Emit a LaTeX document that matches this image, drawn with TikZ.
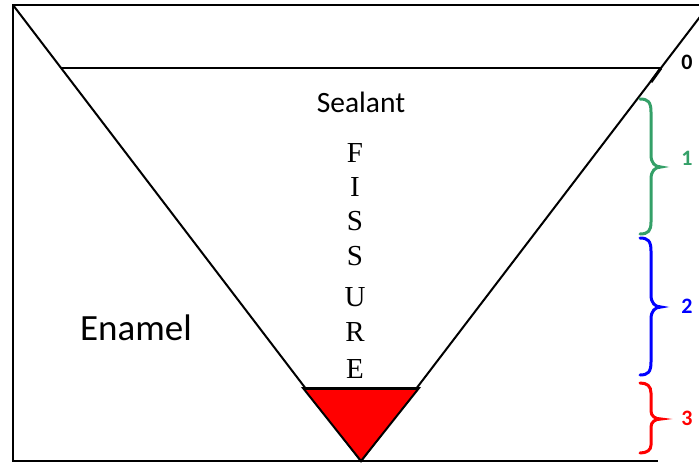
\documentclass[tikz,border=0pt]{standalone}
\usepackage{fontspec}
\setmainfont{Carlito}
\newfontfamily\serifface{Liberation Serif}
\definecolor{bgreen}{RGB}{52,160,104}
\begin{document}
\begin{tikzpicture}[x=1pt,y=-1pt,
  edge/.style={line width=2pt,black},
  bracestyle/.style={line width=3pt,line cap=round},
  lettr/.style={font=\serifface\fontsize{29}{29}\selectfont,inner sep=0pt},
  numlab/.style={font=\bfseries\fontsize{22}{22}\selectfont,inner sep=0pt}]
\useasboundingbox (0,0) rectangle (699,463);
\clip (0,0) rectangle (699,463);
% named points
\coordinate (tl) at (13,5);
\coordinate (tr) at (699,5);
\coordinate (bl) at (13,461);
\coordinate (br) at (658,461);
\coordinate (apex) at (361,461);
\coordinate (rtop) at (709,5);
\coordinate (sl) at (61,68);
\coordinate (sr) at (661,68);
\coordinate (sm) at (651,82);
\coordinate (ftl) at (303,388);
\coordinate (ftr) at (419,388);
% frame
\draw[edge] (tr) -- (tl) -- (bl) -- (br);
% V fissure
\draw[edge] (tl) -- (apex) -- (rtop);
% sealant line
\draw[edge] (sl) -- (sr);
\draw[line width=3pt] (sr) -- (sm);
% red filling at bottom
\draw[line width=2pt,fill=red,line join=miter] (ftl) -- (apex) -- (ftr) -- cycle;
\draw[line width=3pt] (ftl) -- (ftr);
% texts
\node[font=\fontsize{29.5}{29.5}\selectfont,inner sep=0pt] (sealant) at (361,102) {Sealant};
\node[font=\fontsize{37}{37}\selectfont,inner sep=0pt] (enamel) at (136,328) {Enamel};
\node[lettr] (f1) at (355,153) {F};
\node[lettr] (f2) at (355,187) {I};
\node[lettr] (f3) at (355,221) {S};
\node[lettr] (f4) at (355,256) {S};
\node[lettr] (f5) at (355,297) {U};
\node[lettr] (f6) at (355,332) {R};
\node[lettr] (f7) at (355,369) {E};
% braces
\draw[bracestyle,bgreen] (640,99) .. controls (648,99) and (651,102) .. (651,112) -- (651,155)
  .. controls (651,163) and (655,167) .. (661,167) .. controls (655,167) and (651,171) .. (651,179)
  -- (651,222) .. controls (651,231) and (648,234) .. (640,234);
\draw[bracestyle,blue] (640,238) .. controls (648,238) and (651,241) .. (651,251) -- (651,295)
  .. controls (651,303) and (655,307) .. (661,307) .. controls (655,307) and (651,311) .. (651,319)
  -- (651,362) .. controls (651,372) and (648,375) .. (640,375);
\draw[bracestyle,red] (640,383) .. controls (647,383) and (651,386) .. (651,393) -- (651,411)
  .. controls (651,416) and (655,419) .. (661,419) .. controls (655,419) and (651,422) .. (651,427)
  -- (651,445) .. controls (651,450) and (647,453) .. (640,453);
\node[numlab] (n0) at (687,62) {0};
\node[numlab,bgreen] (n1) at (687,158) {1};
\node[numlab,blue] (n2) at (687,306) {2};
\node[numlab,red] (n3) at (687,418) {3};
\end{tikzpicture}
\end{document}
